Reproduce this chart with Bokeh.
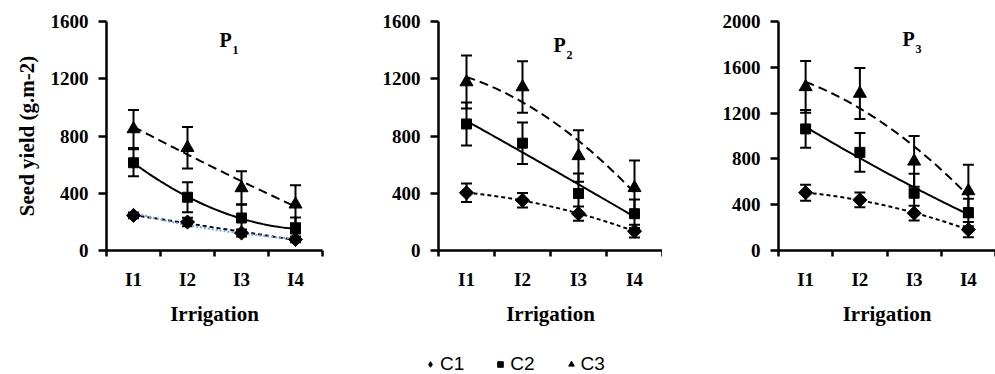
import numpy as np
from bokeh.plotting import figure
from bokeh.models import (ColumnDataSource, Whisker, FixedTicker, Label, Legend,
                          LegendItem, Range1d, TeeHead)
from bokeh.layouts import column, row
from bokeh.embed import file_html
from bokeh.resources import INLINE

# ---------------- data ----------------
irrigation = ["I1", "I2", "I3", "I4"]
x_pos = [1, 2, 3, 4]
treatments = ["C1", "C2", "C3"]

p1_c1 = [245, 199, 122, 77]
p1_c1_err = [20, 30, 25, 20]
p1_c2 = [613, 372, 227, 150]
p1_c2_err = [95, 105, 96, 80]
p1_c3 = [849, 718, 437, 323]
p1_c3_err = [133, 145, 117, 133]

p2_c1 = [403, 351, 257, 135]
p2_c1_err = [65, 50, 50, 45]
p2_c2 = [884, 750, 398, 257]
p2_c2_err = [150, 145, 140, 100]
p2_c3 = [1177, 1142, 661, 438]
p2_c3_err = [185, 180, 180, 190]

p3_c1 = [505, 442, 326, 182]
p3_c1_err = [70, 65, 65, 66]
p3_c2 = [1062, 857, 500, 332]
p3_c2_err = [165, 170, 170, 120]
p3_c3 = [1429, 1371, 779, 520]
p3_c3_err = [225, 222, 222, 230]

panels = [
    ("P", "1", 1600, [(p1_c1, p1_c1_err), (p1_c2, p1_c2_err), (p1_c3, p1_c3_err)]),
    ("P", "2", 1600, [(p2_c1, p2_c1_err), (p2_c2, p2_c2_err), (p2_c3, p2_c3_err)]),
    ("P", "3", 2000, [(p3_c1, p3_c1_err), (p3_c2, p3_c2_err), (p3_c3, p3_c3_err)]),
]

FONT = "Liberation Serif"
markers = [("square", np.pi / 4, 10), ("square", 0, 10), ("triangle", 0, 13)]
legend_markers = ["diamond", "square", "triangle"]
dashes = ["4 3", "solid", "9 5"]

# layout geometry per panel: (left border, frame width, right border, title x, title y)
geom = [(106, 216, 8, 113, 200), (108, 224, 0, 115, 195), (116, 217, 0, 124, 201)]
TOP, FH, BOT = 21, 229, 80

figs = []
for i, (tp, ts, ymax, series) in enumerate(panels):
    lb, fw, rb, tx, ty = geom[i]
    p = figure(width=lb + fw + rb, height=TOP + FH + BOT, output_backend="svg",
               toolbar_location=None, x_range=Range1d(0.5, 4.5),
               y_range=Range1d(0, ymax), min_border_left=lb, min_border_right=rb,
               min_border_top=TOP, min_border_bottom=BOT)
    p.outline_line_color = None
    p.grid.visible = False
    p.background_fill_color = "white"
    p.border_fill_color = "white"

    xs = np.linspace(1, 4, 61)
    for k, (vals, errs) in enumerate(series):
        # trend lines fitted to the data
        coef = np.polyfit(x_pos, vals, 2)
        p.line(xs, np.polyval(coef, xs), line_color="black", line_width=2,
               line_dash=dashes[k])
        if i == 0 and k == 0:
            ecoef = np.polyfit(x_pos, np.log(vals), 1)
            p.line(xs, np.exp(np.polyval(ecoef, xs)), line_color="#7aa6dc",
                   line_width=2.2, line_dash="2 2")
        src = ColumnDataSource(dict(
            x=x_pos, y=vals,
            up=[v + e for v, e in zip(vals, errs)],
            lo=[v - e for v, e in zip(vals, errs)]))
        w = Whisker(source=src, base="x", upper="up", lower="lo",
                    line_color="black", line_width=2,
                    upper_head=TeeHead(size=11, line_width=2, line_color="black"),
                    lower_head=TeeHead(size=11, line_width=2, line_color="black"))
        p.add_layout(w)
        mk, ang, sz = markers[k]
        p.scatter("x", "y", source=src, marker=mk, angle=ang, size=sz,
                  fill_color="black", line_color="black")

    # axes
    p.yaxis.ticker = FixedTicker(ticks=list(range(0, ymax + 1, 400)))
    p.xaxis.ticker = FixedTicker(ticks=x_pos, minor_ticks=[0.5, 1.5, 2.5, 3.5, 4.5])
    p.xaxis.major_label_overrides = {x: lab for x, lab in zip(x_pos, irrigation)}
    for ax in (p.xaxis[0], p.yaxis[0]):
        ax.axis_line_width = 2.5
        ax.major_tick_line_width = 2.5
        ax.minor_tick_line_width = 2.5
        ax.major_label_text_font = FONT
        ax.major_label_text_font_style = "bold"
        ax.major_label_text_font_size = "19px"
        ax.major_label_text_color = "black"
        ax.axis_label_text_font = FONT
        ax.axis_label_text_font_style = "bold"
        ax.axis_label_text_color = "black"
    p.yaxis.major_tick_in = 0
    p.yaxis.major_tick_out = 8
    p.yaxis.minor_tick_out = 0
    p.yaxis.minor_tick_in = 0
    p.yaxis.major_label_standoff = 10
    p.xaxis.major_tick_in = 0
    p.xaxis.major_tick_out = 0
    p.xaxis.minor_tick_in = 0
    p.xaxis.minor_tick_out = 6
    p.xaxis.major_label_standoff = 12
    p.xaxis.axis_label = "Irrigation"
    p.xaxis.axis_label_text_font_size = "21px"
    p.xaxis.axis_label_standoff = 9
    if i == 0:
        p.yaxis.axis_label = "Seed yield (g.m-2)"
        p.yaxis.axis_label_text_font_size = "21px"
        p.yaxis.axis_label_standoff = 9

    p.add_layout(Label(x=tx, y=ty, x_units="screen", y_units="screen",
                       text=tp, text_font=FONT, text_font_style="bold",
                       text_font_size="20px", text_color="black"))
    p.add_layout(Label(x=tx + 13, y=ty - 3, x_units="screen", y_units="screen",
                       text=ts, text_font=FONT, text_font_style="bold",
                       text_font_size="12px", text_color="black"))
    figs.append(p)

# legend strip (its renderers reuse the P1 series, kept outside the visible range)
lf = figure(width=995, height=44, output_backend="svg", toolbar_location=None,
            x_range=Range1d(-20, -10), y_range=Range1d(-20, -10),
            min_border_left=0, min_border_right=0, min_border_top=0, min_border_bottom=0)
lf.axis.visible = False
lf.grid.visible = False
lf.outline_line_color = None
items = []
for k, name in enumerate(treatments):
    vals = panels[0][3][k][0]
    r = lf.scatter(x=x_pos, y=vals, marker=legend_markers[k], size=10,
                   fill_color="black", line_color="black")
    items.append(LegendItem(label=name, renderers=[r]))
leg = Legend(items=items, orientation="horizontal", location=(423, -1),
             border_line_color=None, background_fill_alpha=0,
             padding=0, margin=0, spacing=29, glyph_width=14, glyph_height=18,
             label_standoff=3, label_text_font="Liberation Sans",
             label_text_font_size="19px", label_text_color="black")
lf.add_layout(leg)

layout = column(row(*figs), lf)
open("out.html", "w").write(file_html(layout, INLINE))
